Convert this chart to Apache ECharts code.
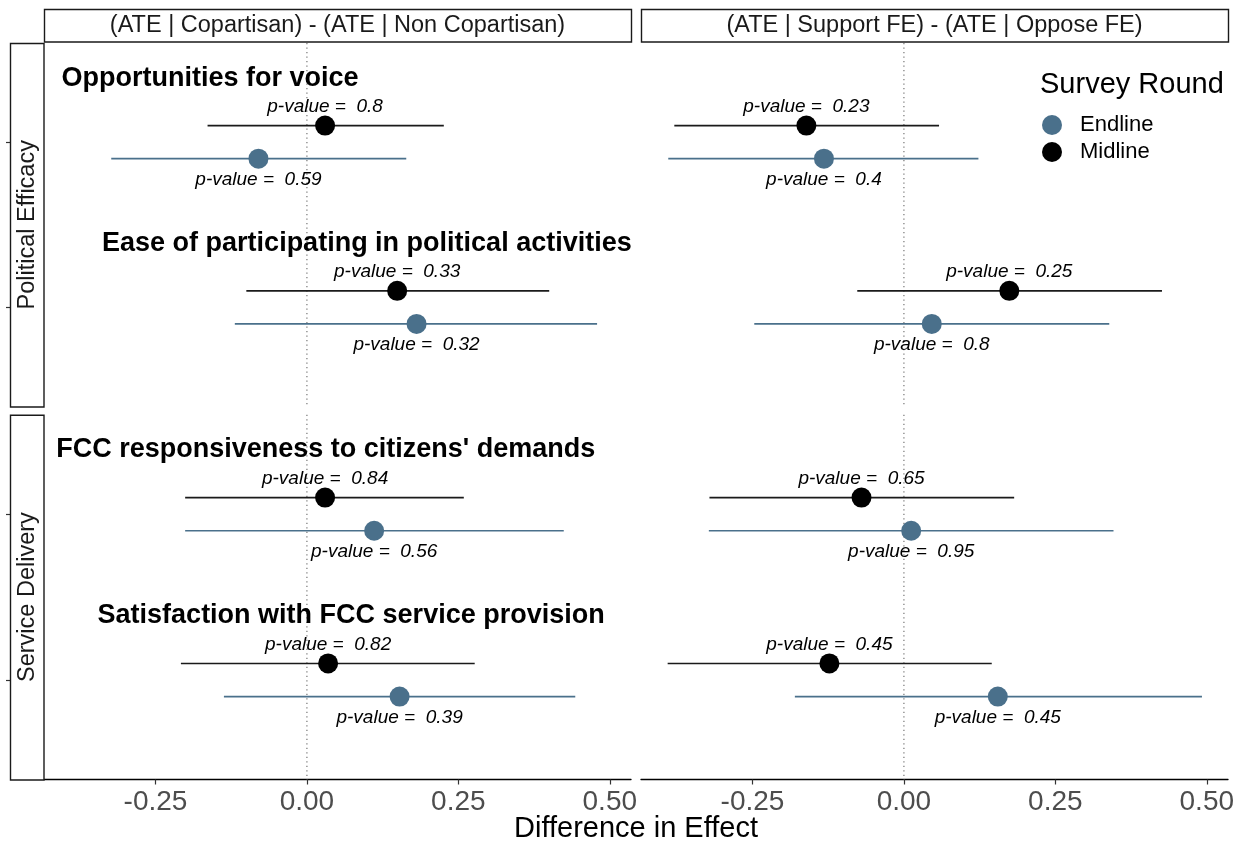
<!DOCTYPE html>
<html><head><meta charset="utf-8">
<script src="https://cdn.jsdelivr.net/npm/echarts@6/dist/echarts.min.js"></script>
<style>html,body{margin:0;padding:0;background:#fff}#chart{width:1251px;height:845px}</style>
</head><body><div id="chart"></div>
<script>
// ---------------- data ----------------
const outcomes = ["Opportunities for voice", "Ease of participating in political activities",
  "FCC responsiveness to citizens' demands", "Satisfaction with FCC service provision"];
const outcomeGroups = ["Political Efficacy", "Political Efficacy", "Service Delivery", "Service Delivery"];
const groupNames = ["Political Efficacy", "Service Delivery"];
const comparisons = ["(ATE | Copartisan) - (ATE | Non Copartisan)", "(ATE | Support FE) - (ATE | Oppose FE)"];
const rounds = ["Endline", "Midline"];
const xTicks = [-0.25, 0, 0.25, 0.5];
const refLine = [0];

// Copartisan comparison
const copMidlineEst  = [0.030, 0.149, 0.030, 0.035];
const copMidlineLow  = [-0.164, -0.100, -0.201, -0.208];
const copMidlineHigh = [0.226, 0.400, 0.259, 0.277];
const copMidlineP    = ["0.8", "0.33", "0.84", "0.82"];
const copEndlineEst  = [-0.080, 0.181, 0.111, 0.153];
const copEndlineLow  = [-0.323, -0.119, -0.201, -0.137];
const copEndlineHigh = [0.164, 0.479, 0.424, 0.443];
const copEndlineP    = ["0.59", "0.32", "0.56", "0.39"];
// Support FE comparison
const feMidlineEst  = [-0.161, 0.174, -0.070, -0.123];
const feMidlineLow  = [-0.379, -0.077, -0.321, -0.390];
const feMidlineHigh = [0.058, 0.426, 0.182, 0.145];
const feMidlineP    = ["0.23", "0.25", "0.65", "0.45"];
const feEndlineEst  = [-0.132, 0.046, 0.012, 0.155];
const feEndlineLow  = [-0.389, -0.247, -0.322, -0.180];
const feEndlineHigh = [0.123, 0.339, 0.346, 0.492];
const feEndlineP    = ["0.4", "0.8", "0.95", "0.45"];

// annotation anchor (x in data units) for the outcome titles
const titleAnchorX = [-0.160, 0.099, 0.031, 0.073];

// ---------------- layout / style ----------------
const FONT = '"Liberation Sans", Arial, Helvetica, sans-serif';
const PANEL_X = [44, 641];
const PANEL_W = 587;
const ROW_TOP = [43, 414.7];
const ROW_H = [363.5, 364.8];
const X_MIN = -0.434, X_MAX = 0.535;
const Y_MIN = 0.4, Y_MAX = 2.6;
const roundFill = { Endline: '#4A708B', Midline: '#000000' };
const roundLine = { Endline: '#4A708B', Midline: '#1A1A1A' };
const dodge = { Midline: 0.1, Endline: -0.1 };
const labelDy = { Midline: -19, Endline: 21 };
const titleDy = 0.387;

const table = [
  { Midline: { est: copMidlineEst, low: copMidlineLow, high: copMidlineHigh, p: copMidlineP },
    Endline: { est: copEndlineEst, low: copEndlineLow, high: copEndlineHigh, p: copEndlineP } },
  { Midline: { est: feMidlineEst, low: feMidlineLow, high: feMidlineHigh, p: feMidlineP },
    Endline: { est: feEndlineEst, low: feEndlineLow, high: feEndlineHigh, p: feEndlineP } }
];

function outcomeY(i) { // first outcome of each group on top
  const inGroup = outcomes.filter((o, k) => outcomeGroups[k] === outcomeGroups[i]);
  return inGroup.length - inGroup.indexOf(outcomes[i]);
}

const grids = [], xAxes = [], yAxes = [], series = [];
for (let r = 0; r < groupNames.length; r++) {
  for (let c = 0; c < comparisons.length; c++) {
    const g = grids.length;
    grids.push({ left: PANEL_X[c], top: ROW_TOP[r], width: PANEL_W, height: ROW_H[r],
      containLabel: false, outerBoundsMode: 'none' });
    const bottom = r === groupNames.length - 1;
    xAxes.push({
      gridIndex: g, type: 'value', min: X_MIN, max: X_MAX, show: bottom, position: 'bottom',
      splitLine: { show: false },
      axisLine: { show: bottom, onZero: false, lineStyle: { color: '#000', width: 1.3 } },
      axisTick: { show: bottom, customValues: xTicks, length: 5, lineStyle: { color: '#333', width: 1.2 } },
      axisLabel: { show: bottom, customValues: xTicks, formatter: v => v.toFixed(2),
        fontSize: 28, color: '#4D4D4D', fontFamily: FONT, margin: 9 }
    });
    yAxes.push({
      gridIndex: g, type: 'value', min: Y_MIN, max: Y_MAX, show: c === 0, offset: 34, position: 'left',
      splitLine: { show: false },
      axisLine: { show: false, onZero: false },
      axisTick: { show: c === 0, customValues: [1, 2], length: 4, lineStyle: { color: '#333', width: 1.2 } },
      axisLabel: { show: false }
    });

    // dotted reference line at 0
    series.push({
      type: 'custom', xAxisIndex: g, yAxisIndex: g, silent: true, z: 1,
      data: refLine.map(v => [v]),
      renderItem: (params, api) => {
        const cs = params.coordSys;
        const x = api.coord([api.value(0), Y_MIN])[0];
        return { type: 'line', shape: { x1: x, y1: cs.y, x2: x, y2: cs.y + cs.height },
          style: { stroke: '#808080', lineWidth: 1.3, lineDash: [1.3, 3.2] } };
      }
    });

    const idx = outcomes.map((o, i) => i).filter(i => outcomeGroups[i] === groupNames[r]);

    rounds.forEach(rd => {
      const src = table[c][rd];
      const rows = idx.map(i => [src.low[i], src.high[i], src.est[i], outcomeY(i) + dodge[rd], i]);
      series.push({
        name: rd, type: 'custom', xAxisIndex: g, yAxisIndex: g, silent: true, z: 2,
        data: rows,
        renderItem: (params, api) => {
          const y = api.value(3);
          const a = api.coord([api.value(0), y]);
          const b = api.coord([api.value(1), y]);
          const m = api.coord([api.value(2), y]);
          const oi = rows[params.dataIndex][4];
          return { type: 'group', children: [
            { type: 'line', shape: { x1: a[0], y1: a[1], x2: b[0], y2: b[1] },
              style: { stroke: roundLine[rd], lineWidth: 1.6 } },
            { type: 'text', x: m[0], y: m[1] + labelDy[rd],
              style: { text: 'p-value =  ' + src.p[oi], fill: '#000', fontSize: 19, fontStyle: 'italic',
                fontFamily: FONT, align: 'center', verticalAlign: 'middle' } }
          ] };
        }
      });
      series.push({
        name: rd, type: 'scatter', xAxisIndex: g, yAxisIndex: g, silent: true, z: 3,
        symbol: 'circle', symbolSize: 20,
        itemStyle: { color: roundFill[rd], opacity: 1 },
        data: idx.map(i => [src.est[i], outcomeY(i) + dodge[rd]])
      });
    });

    if (c === 0) {
      series.push({
        type: 'custom', xAxisIndex: g, yAxisIndex: g, silent: true, z: 4, clip: false,
        data: idx.map(i => [titleAnchorX[i], outcomeY(i) + titleDy, i]),
        renderItem: (params, api) => {
          const p = api.coord([api.value(0), api.value(1)]);
          const oi = api.value(2);
          return { type: 'text', x: p[0], y: p[1],
            style: { text: outcomes[oi], fill: '#000', fontSize: 27, fontWeight: 'bold',
              fontFamily: FONT, align: 'center', verticalAlign: 'middle' } };
        }
      });
    }
  }
}

// strips and texts
const graphic = [];
comparisons.forEach((t, c) => {
  graphic.push({ type: 'rect', silent: true, z: 10,
    shape: { x: PANEL_X[c] + 0.5, y: 9.5, width: PANEL_W, height: 32.5 },
    style: { fill: '#fff', stroke: '#1A1A1A', lineWidth: 1.4 } });
  graphic.push({ type: 'text', silent: true, z: 11, x: PANEL_X[c] + PANEL_W / 2, y: 26,
    style: { text: t, fill: '#1A1A1A', fontSize: 23.5, fontFamily: FONT, align: 'center', verticalAlign: 'middle' } });
});
groupNames.forEach((t, r) => {
  graphic.push({ type: 'rect', silent: true, z: 10,
    shape: { x: 10.5, y: ROW_TOP[r] + 0.5, width: 33.5, height: ROW_H[r] },
    style: { fill: '#fff', stroke: '#1A1A1A', lineWidth: 1.4 } });
  graphic.push({ type: 'text', silent: true, z: 11, x: 27.5, y: ROW_TOP[r] + ROW_H[r] / 2, rotation: Math.PI / 2,
    style: { text: t, fill: '#1A1A1A', fontSize: 23.5, fontFamily: FONT, align: 'center', verticalAlign: 'middle' } });
});
graphic.push({ type: 'text', silent: true, z: 11, x: 636, y: 829,
  style: { text: 'Difference in Effect', fill: '#000', fontSize: 29, fontFamily: FONT, align: 'center', verticalAlign: 'middle' } });
graphic.push({ type: 'text', silent: true, z: 11, x: 1040, y: 85,
  style: { text: 'Survey Round', fill: '#000', fontSize: 29, fontFamily: FONT, align: 'left', verticalAlign: 'middle' } });

const chart = echarts.init(document.getElementById('chart'), null, { renderer: 'canvas' });
chart.setOption({
  animation: false,
  backgroundColor: '#fff',
  grid: grids,
  xAxis: xAxes,
  yAxis: yAxes,
  legend: {
    orient: 'vertical', left: 1042, top: 114, padding: 0, itemWidth: 20, itemHeight: 20, itemGap: 5,
    icon: 'circle', selectedMode: false,
    textStyle: { fontSize: 22, color: '#000', fontFamily: FONT, padding: [0, 0, 0, 13] },
    data: rounds.map(rd => ({ name: rd, itemStyle: { color: roundFill[rd] } }))
  },
  graphic: graphic,
  series: series
});
</script>
</body></html>
